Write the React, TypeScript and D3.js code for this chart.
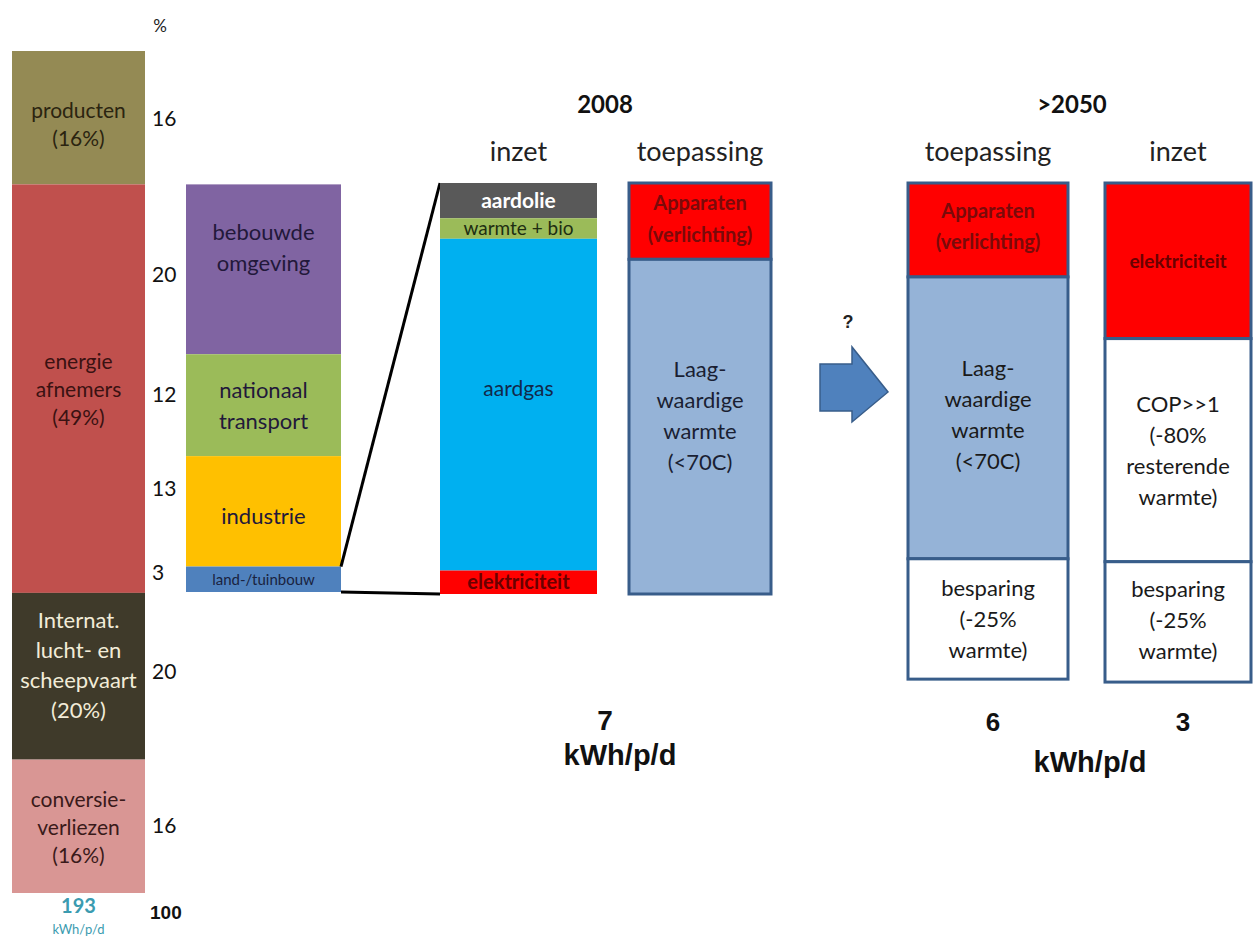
import React from 'react';
import * as d3 from 'd3';

// linker staaf: totaal energieverbruik (%)
const totalCats = ['producten', 'energie afnemers', 'Internat. lucht- en scheepvaart', 'conversieverliezen'];
const totalValues = [16, 49, 20, 16];
const totalLabels = [
  ['producten', '(16%)'],
  ['energie', 'afnemers', '(49%)'],
  ['Internat.', 'lucht- en', 'scheepvaart', '(20%)'],
  ['conversie-', 'verliezen', '(16%)'],
];
const totalColors = ['#948a54', '#c0504d', '#3f3a2a', '#d99694'];
const totalText = ['#2b2410', '#3a1212', '#f2ecd8', '#3a1a1a'];

// energie afnemers uitgesplitst (%)
const sectorCats = ['bebouwde omgeving', 'nationaal transport', 'industrie', 'land-/tuinbouw'];
const sectorValues = [20, 12, 13, 3];
const sectorLabels = [['bebouwde', 'omgeving'], ['nationaal', 'transport'], ['industrie'], ['land-/tuinbouw']];
const sectorColors = ['#8064a2', '#9bbb59', '#ffc000', '#4f81bd'];

// bebouwde omgeving 2008 (kWh/p/d)
const inzet2008Cats = ['aardolie', 'warmte + bio', 'aardgas', 'elektriciteit'];
const inzet2008Values = [0.6, 0.35, 5.65, 0.4];
const inzet2008Colors = ['#595959', '#9bbb59', '#00b0f0', '#ff0000'];
const inzet2008Text = ['#ffffff', '#1e2e12', '#12284a', '#6a0000'];

const toep2008Values = [1.3, 5.7];
const toep2008Labels = [['Apparaten', '(verlichting)'], ['Laag-', 'waardige', 'warmte', '(<70C)']];

// >2050 (kWh/p/d)
const toep2050Values = [1.6, 4.8, 2.05];
const toep2050Labels = [['Apparaten', '(verlichting)'], ['Laag-', 'waardige', 'warmte', '(<70C)'], ['besparing', '(-25%', 'warmte)']];
const inzet2050Values = [2.65, 3.8, 2.05];
const inzet2050Labels = [['elektriciteit'], ['COP>>1', '(-80%', 'resterende', 'warmte)'], ['besparing', '(-25%', 'warmte)']];

const totalTicks = ['16', '20', '12', '13', '3', '20', '16'];
const totals = { world: '193', y2008: '7', toep2050: '6', inzet2050: '3' };

const FONT = 'Lato, "Open Sans", sans-serif';
const ARIAL = '"Liberation Sans", Arial, sans-serif';

function stack(values: number[], y: d3.ScaleLinear<number, number>) {
  const c = Array.from(d3.cumsum(values));
  return values.map((v, i) => ({ y0: y(c[i] - v), y1: y(c[i]) }));
}

function Lines({ x, cy, lines, size, color, lh, weight = 400 }: any) {
  const start = cy - ((lines.length - 1) * lh) / 2;
  return (
    <text x={x} fontFamily={FONT} fontSize={size} fill={color} fontWeight={weight} textAnchor="middle">
      {lines.map((l: string, i: number) => (
        <tspan key={i} x={x} y={start + i * lh} dominantBaseline="central">{l}</tspan>
      ))}
    </text>
  );
}

export default function App() {
  const W = 1254, H = 941;
  const yTotal = d3.scaleLinear().domain([0, d3.sum(totalValues)]).range([51, 893]);
  const ySector = d3.scaleLinear().domain([0, d3.sum(sectorValues)]).range([yTotal(16), 592]);
  const yKwh = d3.scaleLinear().domain([0, d3.sum(inzet2008Values)]).range([183, 594]);

  const colTotal = [12, 145];
  const colSector = [186, 341];
  const colInzet08 = [440, 597];
  const colToep08 = [629, 771];
  const colToep50 = [908, 1068];
  const colInzet50 = [1105, 1251];
  const mid = (c: number[]) => (c[0] + c[1]) / 2;

  const tot = stack(totalValues, yTotal);
  const sec = stack(sectorValues, ySector);
  const in08 = stack(inzet2008Values, yKwh);
  const to08 = stack(toep2008Values, yKwh);
  const to50 = stack(toep2050Values, yKwh);
  const in50 = stack(inzet2050Values, yKwh);

  const tickYs = [
    (tot[0].y0 + tot[0].y1) / 2,
    ...sec.map((s) => (s.y0 + s.y1) / 2),
    (tot[2].y0 + tot[2].y1) / 2,
    (tot[3].y0 + tot[3].y1) / 2,
  ];
  // labels staan iets boven het midden
  const tickShift = [0, 4, -12, -24, -8, -6, -2];

  const border = '#385d8a';
  const landTop = sec[3].y0;

  const arrow = d3.line()([
    [820, 364], [852, 364], [852, 347], [888, 392], [852, 422], [852, 411], [820, 411],
  ]) + 'Z';

  return (
    <svg width={W} height={H} style={{ position: 'absolute', left: 0, top: 0, background: '#fff' }}>
      {/* linker staaf */}
      {tot.map((s, i) => (
        <g key={totalCats[i]}>
          <rect x={colTotal[0]} y={s.y0} width={colTotal[1] - colTotal[0]} height={s.y1 - s.y0} fill={totalColors[i]} />
          <Lines x={mid(colTotal)} cy={(s.y0 + s.y1) / 2 + (i === 2 ? -12 : i === 0 ? 6 : 0)} lines={totalLabels[i]}
            size={i === 2 ? 22 : 21} color={totalText[i]} lh={i === 2 ? 30 : 28} />
        </g>
      ))}
      <text x={160} y={25} fontFamily={FONT} fontSize={17} fill="#222" textAnchor="middle" dominantBaseline="central">%</text>
      {totalTicks.map((t, i) => (
        <text key={i} x={152} y={tickYs[i] + tickShift[i]} fontFamily={FONT} fontSize={21} fill="#111" dominantBaseline="central">{t}</text>
      ))}
      <text x={150} y={912} fontFamily={ARIAL} fontSize={19} fontWeight={700} fill="#111" dominantBaseline="central">100</text>
      <text x={mid(colTotal)} y={905} fontFamily={FONT} fontSize={20} fontWeight={700} fill="#3b9bb0" textAnchor="middle" dominantBaseline="central">{totals.world}</text>
      <text x={mid(colTotal)} y={929} fontFamily={FONT} fontSize={13} fill="#3b9bb0" textAnchor="middle" dominantBaseline="central">kWh/p/d</text>

      {/* sectoren */}
      {sec.map((s, i) => (
        <g key={sectorCats[i]}>
          <rect x={colSector[0]} y={s.y0} width={colSector[1] - colSector[0]} height={s.y1 - s.y0} fill={sectorColors[i]} />
          <Lines x={mid(colSector)} cy={(s.y0 + s.y1) / 2 + (i === 0 ? -22 : i === 2 ? 4 : 0)} lines={sectorLabels[i]}
            size={i === 3 ? 15 : 22} color={i === 3 ? '#1a2340' : '#22183a'} lh={31} />
        </g>
      ))}

      {/* inzoomlijnen */}
      <line x1={colSector[1]} y1={landTop} x2={colInzet08[0]} y2={yKwh(0)} stroke="#000" strokeWidth={3} />
      <line x1={colSector[1]} y1={sec[3].y1} x2={colInzet08[0]} y2={yKwh(7)} stroke="#000" strokeWidth={3} />

      {/* 2008 */}
      <text x={605} y={103} fontFamily={FONT} fontSize={24} fontWeight={700} fill="#111" textAnchor="middle" dominantBaseline="central">2008</text>
      <text x={mid(colInzet08)} y={150} fontFamily={FONT} fontSize={27} fill="#222" textAnchor="middle" dominantBaseline="central">inzet</text>
      <text x={mid(colToep08)} y={150} fontFamily={FONT} fontSize={27} fill="#222" textAnchor="middle" dominantBaseline="central">toepassing</text>
      {in08.map((s, i) => (
        <g key={inzet2008Cats[i]}>
          <rect x={colInzet08[0]} y={s.y0} width={colInzet08[1] - colInzet08[0]} height={s.y1 - s.y0} fill={inzet2008Colors[i]} />
          <Lines x={mid(colInzet08)} cy={i === 2 ? 387 : (s.y0 + s.y1) / 2 - 1} lines={[inzet2008Cats[i]]}
            size={i === 1 ? 19 : i === 3 ? 20 : 21} weight={i === 0 || i === 3 ? 700 : 400} color={inzet2008Text[i]} lh={28} />
        </g>
      ))}
      {to08.map((s, i) => (
        <g key={'t08' + i}>
          <rect x={colToep08[0]} y={s.y0} width={colToep08[1] - colToep08[0]} height={s.y1 - s.y0}
            fill={i === 0 ? '#ff0000' : '#95b3d7'} stroke={border} strokeWidth={3} />
          <Lines x={mid(colToep08)} cy={(s.y0 + s.y1) / 2 - (i === 1 ? 12 : 3)} lines={toep2008Labels[i]}
            size={i === 0 ? 20 : 22} weight={i === 0 ? 700 : 400} color={i === 0 ? '#7a0a0a' : '#1a1f33'} lh={i === 0 ? 32 : 31} />
        </g>
      ))}
      <text x={605} y={720} fontFamily={ARIAL} fontSize={28} fontWeight={700} fill="#111" textAnchor="middle" dominantBaseline="central">{totals.y2008}</text>
      <text x={620} y={755} fontFamily={ARIAL} fontSize={29} fontWeight={700} fill="#111" textAnchor="middle" dominantBaseline="central">kWh/p/d</text>

      {/* pijl */}
      <text x={848} y={322} fontFamily={ARIAL} fontSize={18} fontWeight={700} fill="#222" textAnchor="middle" dominantBaseline="central">?</text>
      <path d={arrow} fill="#4f81bd" stroke={border} strokeWidth={1.5} />

      {/* >2050 */}
      <text x={1072} y={103} fontFamily={FONT} fontSize={24} fontWeight={700} fill="#111" textAnchor="middle" dominantBaseline="central">&gt;2050</text>
      <text x={mid(colToep50)} y={150} fontFamily={FONT} fontSize={27} fill="#222" textAnchor="middle" dominantBaseline="central">toepassing</text>
      <text x={mid(colInzet50)} y={150} fontFamily={FONT} fontSize={27} fill="#222" textAnchor="middle" dominantBaseline="central">inzet</text>
      {to50.map((s, i) => (
        <g key={'t50' + i}>
          <rect x={colToep50[0]} y={s.y0} width={colToep50[1] - colToep50[0]} height={s.y1 - s.y0}
            fill={['#ff0000', '#95b3d7', '#ffffff'][i]} stroke={border} strokeWidth={3} />
          <Lines x={mid(colToep50)} cy={(s.y0 + s.y1) / 2 + (i === 1 ? -4 : i === 0 ? -4 : 0)} lines={toep2050Labels[i]}
            size={i === 0 ? 20 : 22} weight={i === 0 ? 700 : 400} color={i === 0 ? '#7a0a0a' : '#1a1a1a'} lh={31} />
        </g>
      ))}
      {in50.map((s, i) => (
        <g key={'i50' + i}>
          <rect x={colInzet50[0]} y={s.y0} width={colInzet50[1] - colInzet50[0]} height={s.y1 - s.y0}
            fill={['#ff0000', '#ffffff', '#ffffff'][i]} stroke={border} strokeWidth={3} />
          <Lines x={mid(colInzet50)} cy={(s.y0 + s.y1) / 2 - (i === 2 ? 2 : 0)} lines={inzet2050Labels[i]}
            size={i === 0 ? 19 : 22} weight={i === 0 ? 700 : 400} color={i === 0 ? '#6a0000' : '#1a1a1a'} lh={31} />
        </g>
      ))}
      <text x={993} y={722} fontFamily={ARIAL} fontSize={26} fontWeight={700} fill="#111" textAnchor="middle" dominantBaseline="central">{totals.toep2050}</text>
      <text x={1183} y={722} fontFamily={ARIAL} fontSize={26} fontWeight={700} fill="#111" textAnchor="middle" dominantBaseline="central">{totals.inzet2050}</text>
      <text x={1090} y={762} fontFamily={ARIAL} fontSize={29} fontWeight={700} fill="#111" textAnchor="middle" dominantBaseline="central">kWh/p/d</text>
    </svg>
  );
}
